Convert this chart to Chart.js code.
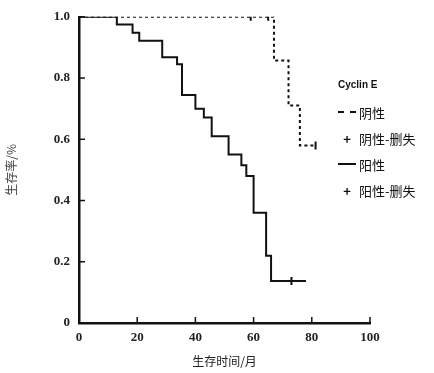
<!DOCTYPE html>
<html>
<head>
<meta charset="utf-8">
<script src="https://cdn.jsdelivr.net/npm/chart.js@4/dist/chart.umd.min.js"></script>
<style>
  body { margin: 0; background: #fff; }
  #wrap { position: relative; width: 434px; height: 373px; }
  #legend { position: absolute; left: 338px; top: 79px; font: 13px "Noto Sans CJK SC", sans-serif; color: #111; line-height: 1; }
  #legend .ttl { font: bold 10px "Liberation Sans", sans-serif; margin-bottom: 9px; }
  #legend .row { display: flex; align-items: center; height: 26px; }
  #legend .sym { width: 18px; margin-right: 3px; }
  #legend .solid { border-top: 2px solid #111; }
  #legend .dash { border-top: 2px dashed #111; }
  #legend .cens { text-align: center; font-weight: bold; }
</style>
</head>
<body>
<div id="wrap">
  <canvas id="km" width="434" height="373"></canvas>
  <div id="legend">
    <div class="ttl">Cyclin E</div>
    <div class="row"><span class="sym dash"></span>阴性</div>
    <div class="row"><span class="sym cens">+</span>阴性-删失</div>
    <div class="row"><span class="sym solid"></span>阳性</div>
    <div class="row"><span class="sym cens">+</span>阳性-删失</div>
  </div>
</div>
<script>
// survival curves (time in months, survival proportion)
const posTime = [0, 13, 18.4, 20.7, 28.6, 33.7, 35.4, 40, 42.9, 45.6, 51.4, 55.8, 57.5, 60, 64.3, 66, 78];
const posSurv = [1, 0.975, 0.948, 0.922, 0.868, 0.845, 0.745, 0.70, 0.671, 0.61, 0.55, 0.515, 0.48, 0.36, 0.22, 0.137, 0.137];
const posCensTime = [73];
const posCensSurv = [0.137];

const negTime = [0, 67, 72, 75.9, 81.3];
const negSurv = [1, 0.857, 0.71, 0.58, 0.58];
const negCensTime = [59, 65, 81.3];
const negCensSurv = [1, 1, 0.58];

const xTicks = [0, 20, 40, 60, 80, 100];
const yTicks = [0, 0.2, 0.4, 0.6, 0.8, 1.0];

const pts = (xs, ys) => xs.map((x, i) => ({x, y: ys[i]}));

// small ticks drawn inside the axes
const innerTicks = {
  id: 'innerTicks',
  afterDraw(chart) {
    const {ctx, scales: {x, y}} = chart;
    ctx.save();
    ctx.strokeStyle = '#111';
    ctx.lineWidth = 1.5;
    xTicks.forEach(v => {
      const px = x.getPixelForValue(v);
      ctx.beginPath(); ctx.moveTo(px, y.bottom); ctx.lineTo(px, y.bottom - 6); ctx.stroke();
    });
    yTicks.forEach(v => {
      const py = y.getPixelForValue(v);
      ctx.beginPath(); ctx.moveTo(x.left, py); ctx.lineTo(x.left + 6, py); ctx.stroke();
    });
    ctx.restore();
  }
};

const tickFont = {family: 'Liberation Serif', size: 13, weight: 'bold'};

new Chart(document.getElementById('km'), {
  type: 'line',
  data: {
    datasets: [
      {
        label: '阳性',
        data: pts(posTime, posSurv),
        stepped: true,
        borderColor: '#111',
        borderWidth: 2,
        pointRadius: 0,
        fill: false
      },
      {
        label: '阴性',
        data: pts(negTime, negSurv),
        stepped: true,
        borderColor: '#111',
        borderWidth: 2,
        borderDash: [3, 3],
        pointRadius: 0,
        fill: false
      },
      {
        type: 'scatter',
        label: '阳性-删失',
        data: pts(posCensTime, posCensSurv),
        pointStyle: 'line',
        rotation: 90,
        pointRadius: 4,
        borderColor: '#111',
        borderWidth: 2
      },
      {
        type: 'scatter',
        label: '阴性-删失',
        data: pts(negCensTime, negCensSurv),
        pointStyle: 'line',
        rotation: 90,
        pointRadius: 4,
        borderColor: '#111',
        borderWidth: 2
      }
    ]
  },
  options: {
    responsive: false,
    animation: false,
    layout: {padding: {top: 16, right: 64, left: 0, bottom: 0}},
    plugins: {legend: {display: false}, tooltip: {enabled: false}},
    scales: {
      x: {
        type: 'linear',
        min: 0,
        max: 100,
        ticks: {stepSize: 20, color: '#222', font: tickFont, padding: 7},
        grid: {display: false, drawTicks: false},
        border: {color: '#111', width: 2.5},
        title: {display: true, text: '生存时间/月', color: '#222', font: {family: 'Noto Sans CJK SC', size: 12}, padding: {top: 7}},
        afterFit: s => { s.height = 50; }
      },
      y: {
        min: 0,
        max: 1,
        ticks: {stepSize: 0.2, color: '#222', font: tickFont, padding: 9,
                callback: v => v === 0 ? '0' : v.toFixed(1)},
        grid: {display: false, drawTicks: false},
        border: {color: '#111', width: 2.5},
        title: {display: true, text: '生存率/%', color: '#444', font: {family: 'Noto Sans CJK SC', size: 12}, padding: {bottom: 6}},
        afterFit: s => { s.width = 79; }
      }
    }
  },
  plugins: [innerTicks]
});
</script>
</body>
</html>
